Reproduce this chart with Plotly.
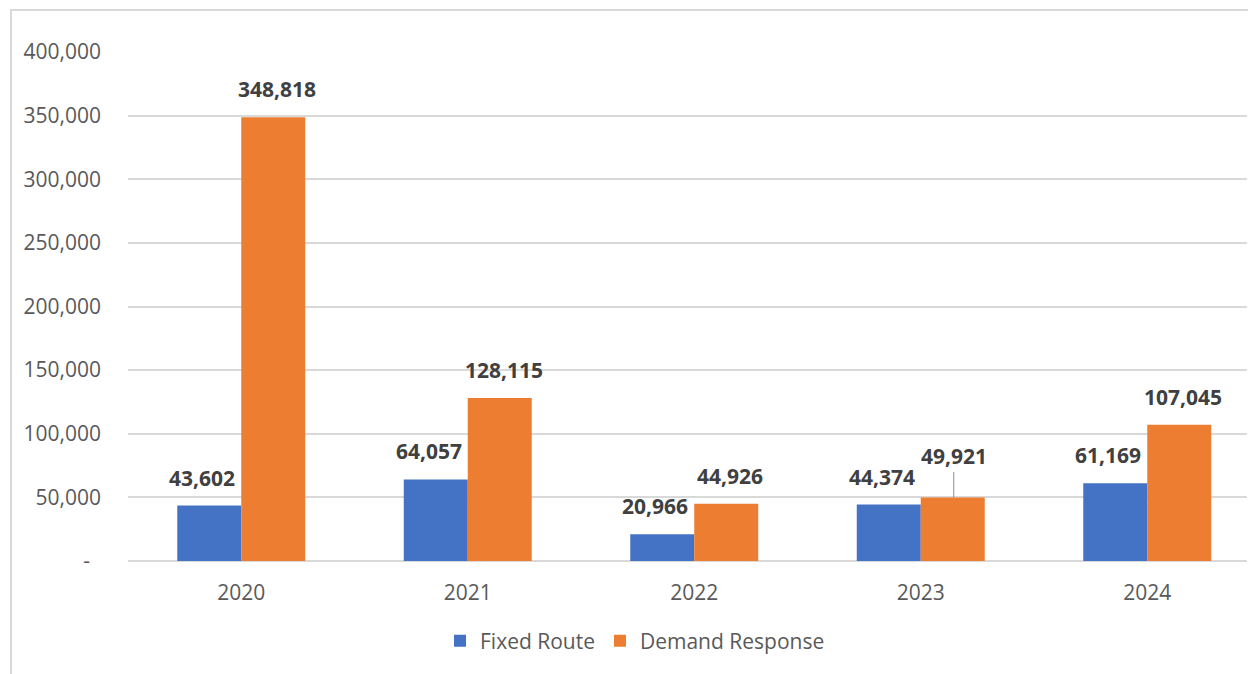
import plotly.graph_objects as go

# ---- data ----
years = ["2020", "2021", "2022", "2023", "2024"]
fixed_route = [43602, 64057, 20966, 44374, 61169]
demand_response = [348818, 128115, 44926, 49921, 107045]
y_tick_values = [0, 50000, 100000, 150000, 200000, 250000, 300000, 350000, 400000]
y_tick_labels = ["-\u00a0\u00a0", "50,000", "100,000", "150,000", "200,000",
                 "250,000", "300,000", "350,000", "400,000"]

# ---- style ----
W, H = 1248, 674
ML, MR, MT, MB = 128, 1, 52, 113
BLUE = "#4472C4"
ORANGE = "#ED7D31"
GRID = "#D9D9D9"
TICK_COLOR = "#595959"
LABEL_COLOR = "#404040"
FONT = "Open Sans"
CAT_PX = 226.5  # pixel width of one category slot

series = [
    ("Fixed Route", fixed_route, BLUE, -39),
    ("Demand Response", demand_response, ORANGE, 36),
]
leader_points = {("Demand Response", "2023")}

fig = go.Figure()
for name, vals, color, _ in series:
    fig.add_trace(go.Bar(name=name, x=years, y=vals, marker=dict(color=color, line=dict(width=0)),
                         hoverinfo="skip"))

annotations = []
for name, vals, color, xs in series:
    for idx, (yr, v) in enumerate(zip(years, vals)):
        txt = f"{v:,}"
        if (name, yr) in leader_points:
            annotations.append(dict(
                x=idx, y=v, xref="x", yref="y", text=f"<b>{txt}</b>",
                showarrow=True, arrowhead=0, arrowwidth=1, arrowcolor="#8C8C8C",
                ax=0, ay=-41, xshift=xs - 3, standoff=0,
                font=dict(family=FONT, size=21, color=LABEL_COLOR)))
        else:
            annotations.append(dict(
                x=idx, y=v, xref="x", yref="y", text=f"<b>{txt}</b>",
                showarrow=False, xanchor="center", yanchor="bottom",
                xshift=xs, yshift=12,
                font=dict(family=FONT, size=21, color=LABEL_COLOR)))

plot_w = W - ML - MR
plot_h = H - MT - MB


def px_x(p):
    return (p - ML) / plot_w


def px_y(p):
    return (H - MB - p) / plot_h


shapes = [dict(type="rect", xref="paper", yref="paper",
               x0=px_x(11), x1=px_x(W + 20), y0=px_y(H + 20), y1=px_y(10),
               line=dict(color=GRID, width=2), fillcolor="rgba(0,0,0,0)", layer="below")]

x_end = -0.5 + plot_w / CAT_PX

fig.update_layout(
    width=W, height=H,
    margin=dict(l=ML, r=MR, t=MT, b=MB),
    paper_bgcolor="white", plot_bgcolor="white",
    barmode="group", bargap=0.435, bargroupgap=0,
    font=dict(family=FONT, size=21, color=TICK_COLOR),
    annotations=annotations,
    shapes=shapes,
    showlegend=True,
    legend=dict(orientation="h", x=px_x(440), xanchor="left", y=px_y(641), yanchor="middle",
                font=dict(family=FONT, size=21, color=TICK_COLOR), bgcolor="rgba(0,0,0,0)",
                traceorder="normal"),
    xaxis=dict(type="category", range=[-0.5, x_end], showgrid=False, showline=False,
               ticks="", ticklabelstandoff=17,
               tickfont=dict(family=FONT, size=21, color=TICK_COLOR), fixedrange=True),
    yaxis=dict(range=[0, 400000], tickvals=y_tick_values, ticktext=y_tick_labels,
               showgrid=True, gridcolor=GRID, gridwidth=2, zeroline=True, zerolinecolor=GRID,
               zerolinewidth=2, showline=False, ticks="", ticklabelstandoff=26,
               tickfont=dict(family=FONT, size=21, color=TICK_COLOR), fixedrange=True),
)

fig.write_html("out.html", config={"displayModeBar": False},
               post_script="document.body.style.margin='0';document.body.style.overflow='hidden';")
